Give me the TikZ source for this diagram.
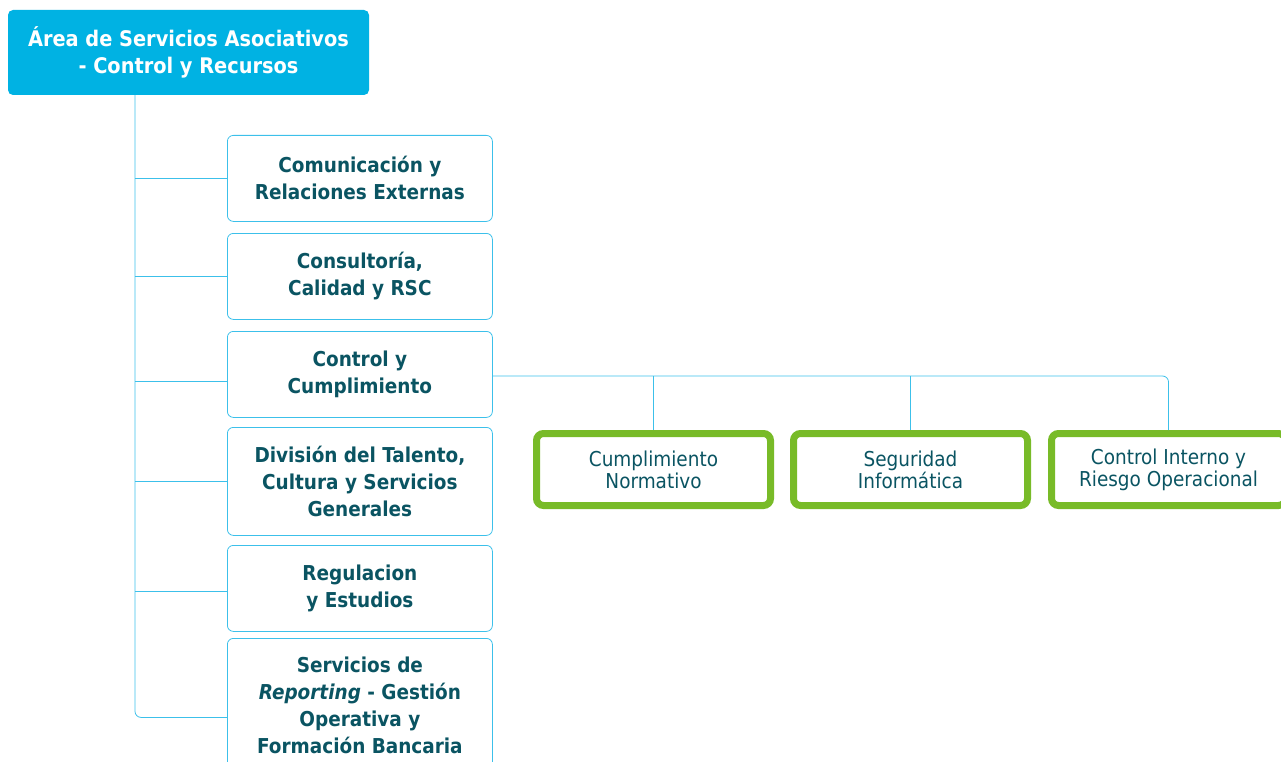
\documentclass[tikz,border=0pt]{standalone}
\usepackage{fontspec}
\setmainfont{DejaVu Sans Condensed}
\usetikzlibrary{positioning}
\definecolor{areablue}{HTML}{00B2E3}
\definecolor{linkblue}{HTML}{3CC0EA}
\definecolor{textteal}{HTML}{0A5462}
\definecolor{unitgreen}{HTML}{78BB28}
\tikzset{
  headbox/.style={fill=areablue, rounded corners=5pt, text=white, align=center,
    font=\bfseries\fontsize{21.5}{27}\selectfont, minimum width=361pt, minimum height=85pt},
  deptbox/.style={draw=linkblue, line width=0.8pt, rounded corners=6pt, text=textteal,
    align=center, font=\bfseries\fontsize{20.5}{27}\selectfont, minimum width=265pt,
    minimum height=86pt, anchor=north west},
  unitbox/.style={draw=unitgreen, line width=7pt, rounded corners=7pt, text=textteal,
    align=center, font=\fontsize{20.5}{22}\selectfont, minimum width=234pt,
    minimum height=72pt, anchor=north west},
  link/.style={draw=linkblue, line width=0.8pt, rounded corners=6pt}
}
\begin{document}
\begin{tikzpicture}[x=1pt,y=-1pt]
        \useasboundingbox (0,0) rectangle (1281,762);
        \clip (0,0) rectangle (1281,762);
        % Head of the area
        \node[headbox] (area) at (188.5,52.5) {Área de Servicios Asociativos\\- Control y Recursos};
        % Departments
        \node[deptbox] (comun) at (227,135) {Comunicación y\\Relaciones Externas};
        \node[deptbox] (consul) at (227,233) {Consultoría,\\Calidad y RSC};
        \node[deptbox] (control) at (227,331) {Control y\\Cumplimiento};
        \node[deptbox, minimum height=108pt] (talento) at (227,427) {División del Talento,\\Cultura y Servicios\\Generales};
        \node[deptbox] (regul) at (227,545) {Regulacion\\y Estudios};
        \node[deptbox, minimum height=134pt] (report) at (227,638) {Servicios de\\\textit{Reporting} - Gestión\\Operativa y\\Formación Bancaria};
        % Units under Control y Cumplimiento
        \node[unitbox] (normat) at (533,430) {Cumplimiento\\Normativo};
        \node[unitbox] (segur) at (790,430) {Seguridad\\Informática};
        \node[unitbox] (riesgo) at (1048,430) {Control Interno y\\Riesgo Operacional};
        % Connectors
        \coordinate (trunk) at (135,0);
        \coordinate (bus) at (0,376);
        \coordinate (controlin) at ([yshift=-7pt]control.west);
        \coordinate (regulin) at ([yshift=-3pt]regul.west);
        \coordinate (reportin) at ([yshift=-12pt]report.west);
        \draw[link] (area.south -| trunk) -- (trunk |- reportin) -- (reportin);
        \foreach \d in {comun,consul,controlin,talento,regulin}
          \draw[link] (trunk |- \d) -- (\d);
        \draw[link] (control.east |- bus) -- (riesgo.north |- bus) -- (riesgo.north);
        \draw[link] (normat.north |- bus) -- (normat.north);
        \draw[link] (segur.north |- bus) -- (segur.north);
    \end{tikzpicture}
\end{document}
